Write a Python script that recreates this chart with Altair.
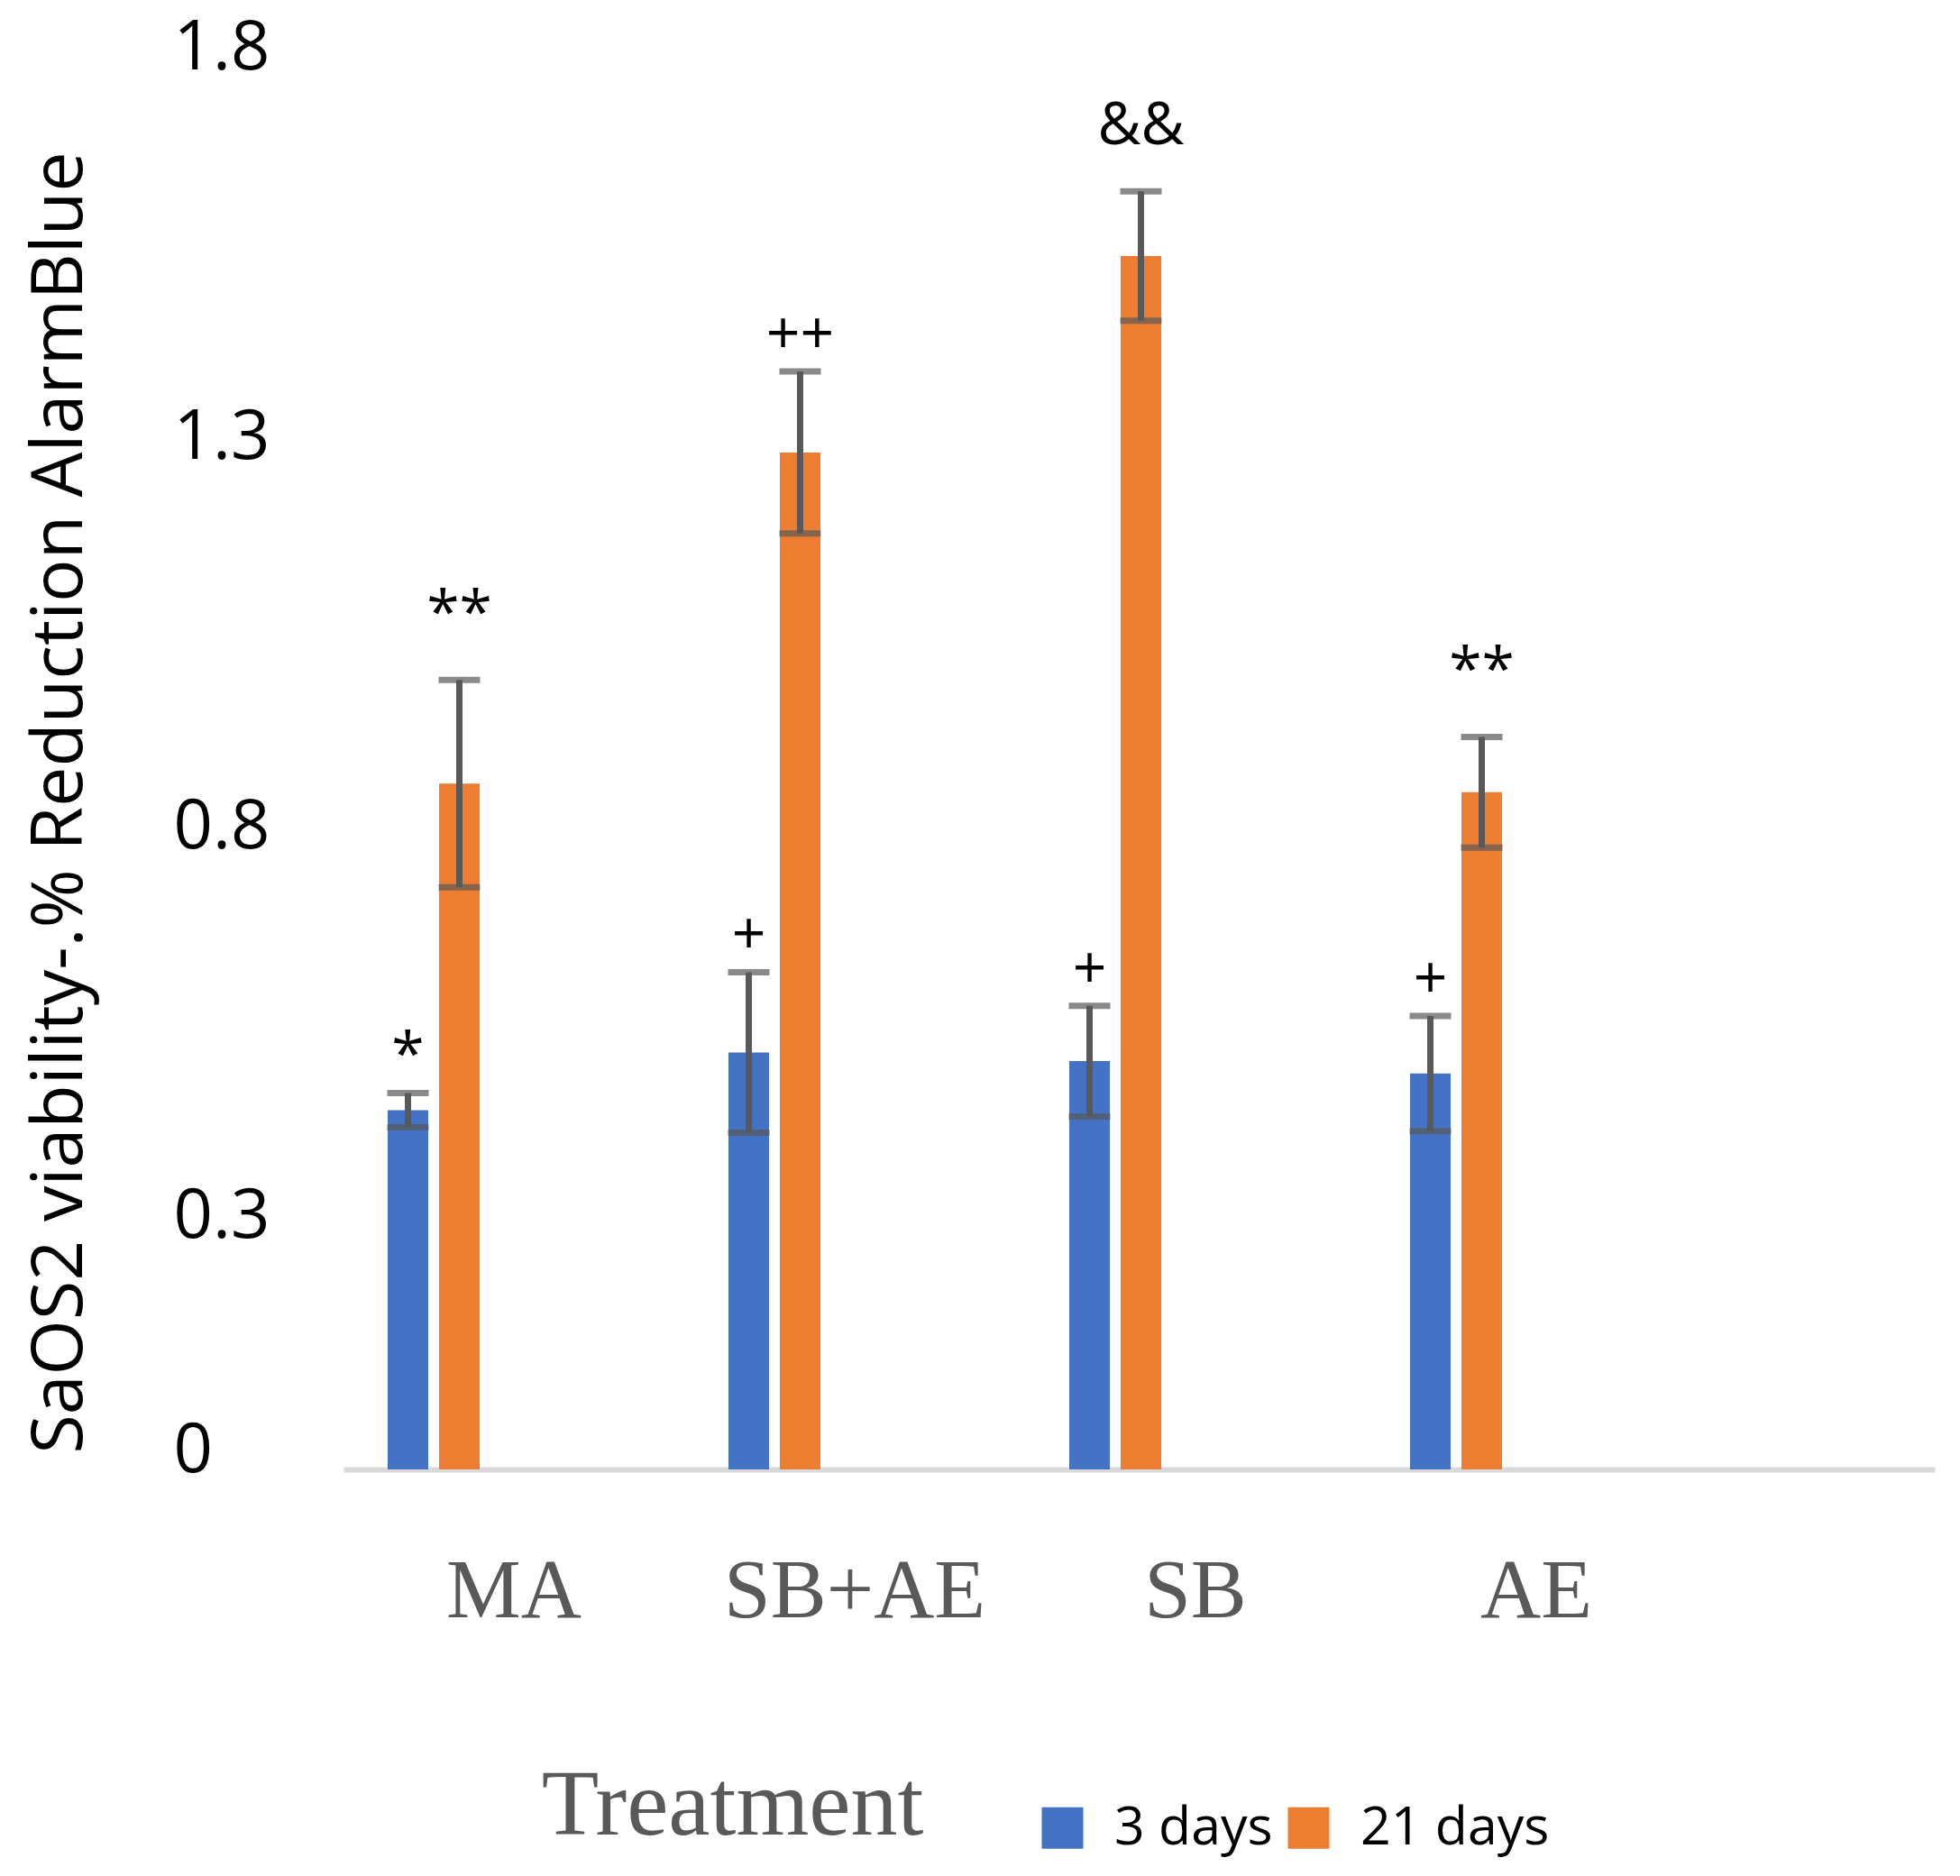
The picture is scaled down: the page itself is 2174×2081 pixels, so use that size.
import altair as alt
import pandas as pd

categories = ["MA", "SB+AE", "SB", "AE"]
series = ["3 days", "21 days"]
colors = ["#4472C4", "#ED7D31"]

values_3d = [0.461, 0.535, 0.524, 0.508]
values_21d = [0.880, 1.305, 1.557, 0.869]
err_3d = [0.022, 0.103, 0.071, 0.074]
err_21d = [0.133, 0.104, 0.083, 0.071]
marks_3d = ["*", "+", "+", "+"]
marks_21d = ["**", "++", "&&", "**"]
tall_marks = ["**", "&&"]

y_ticks = [0, 0.3, 0.8, 1.3, 1.8]

rows = []
for s, vals, errs, marks in [
    (series[0], values_3d, err_3d, marks_3d),
    (series[1], values_21d, err_21d, marks_21d),
]:
    for c, v, e, m in zip(categories, vals, errs, marks):
        rows.append(dict(Treatment=c, Series=s, value=v, lower=v - e, upper=v + e,
                         mark=m, tall=m in tall_marks))
df = pd.DataFrame(rows)

W, H = 1765, 1556

x_axis = alt.Axis(
    title="Treatment",
    labelFont="Liberation Serif", labelFontSize=93, labelColor="#595959",
    labelPadding=135, labelBaseline="middle", labelAngle=0, labelLimit=1000,
    ticks=False, domainColor="#D9D9D9", domainWidth=6,
    titleFont="Liberation Serif", titleFontSize=104, titleFontWeight="normal",
    titleColor="#595959", titleX=431, titleY=404, titleBaseline="alphabetic",
    titleAlign="center",
)
x_enc = alt.X(
    "Treatment:N", sort=categories,
    scale=alt.Scale(domain=categories, paddingInner=0, paddingOuter=0.3346, align=0),
    axis=x_axis,
)
xo_enc = alt.XOffset(
    "Series:N", sort=series,
    scale=alt.Scale(domain=series, range=[49, 151], paddingInner=0.21, paddingOuter=0),
)
y_axis = alt.Axis(
    values=y_ticks, format="~g",
    labelFont="Open Sans", labelFontSize=76, labelColor="#000000",
    labelPadding=189, labelOffset=-21, labelAlign="left",
    ticks=False, domain=False, grid=False,
    title="SaOS2 viability-.% Reduction AlarmBlue",
    titleFont="Open Sans", titleFontSize=79, titleFontWeight="normal",
    titleColor="#000000", titleX=-315, titleY=816, titleAngle=270,
    titleBaseline="middle", titleAlign="center",
)
y_scale = alt.Scale(domain=[0, 1.8], nice=False)

base = alt.Chart(df)

bars = base.mark_bar().encode(
    x=x_enc,
    xOffset=xo_enc,
    y=alt.Y("value:Q", scale=y_scale, axis=y_axis),
    color=alt.Color(
        "Series:N", sort=series,
        scale=alt.Scale(domain=series, range=colors),
        title=None,
        legend=alt.Legend(
            orient="none", legendX=768, legendY=1924, direction="horizontal",
            symbolType="square", symbolSize=2116, symbolStrokeWidth=0,
            labelFont="Open Sans", labelFontSize=59, labelColor="#000000",
            labelOffset=28, columnPadding=10, labelLimit=1000,
        ),
    ),
)

err_color = "#595959"
rule = base.mark_rule(color=err_color, strokeWidth=7).encode(
    x=x_enc, xOffset=xo_enc,
    y=alt.Y("lower:Q", scale=y_scale, axis=y_axis),
    y2="upper:Q",
)
cap_lo = base.mark_tick(color=err_color, thickness=7, size=46).encode(
    x=x_enc, xOffset=xo_enc,
    y=alt.Y("lower:Q", scale=y_scale, axis=y_axis),
)
cap_hi = base.mark_tick(color=err_color, thickness=7, size=46).encode(
    x=x_enc, xOffset=xo_enc,
    y=alt.Y("upper:Q", scale=y_scale, axis=y_axis),
)
text_enc = dict(
    x=x_enc, xOffset=xo_enc,
    y=alt.Y("upper:Q", scale=y_scale, axis=y_axis),
    text="mark:N",
)
labels_short = base.transform_filter("!datum.tall").mark_text(
    font="Open Sans", fontSize=66, color="#000000", baseline="alphabetic", dy=-20
).encode(**text_enc)
labels_tall = base.transform_filter("datum.tall").mark_text(
    font="Open Sans", fontSize=66, color="#000000", baseline="alphabetic", dy=-52
).encode(**text_enc)

chart = alt.layer(bars, rule, cap_lo, cap_hi, labels_short, labels_tall).properties(
    width=W, height=H,
    background="#ffffff",
    autosize=alt.AutoSizeParams(type="none"),
    padding={"left": 373, "top": 66, "right": 20, "bottom": 440},
).configure_view(strokeWidth=0)

chart.save("out.html", embed_options={"renderer": "svg", "actions": False})
